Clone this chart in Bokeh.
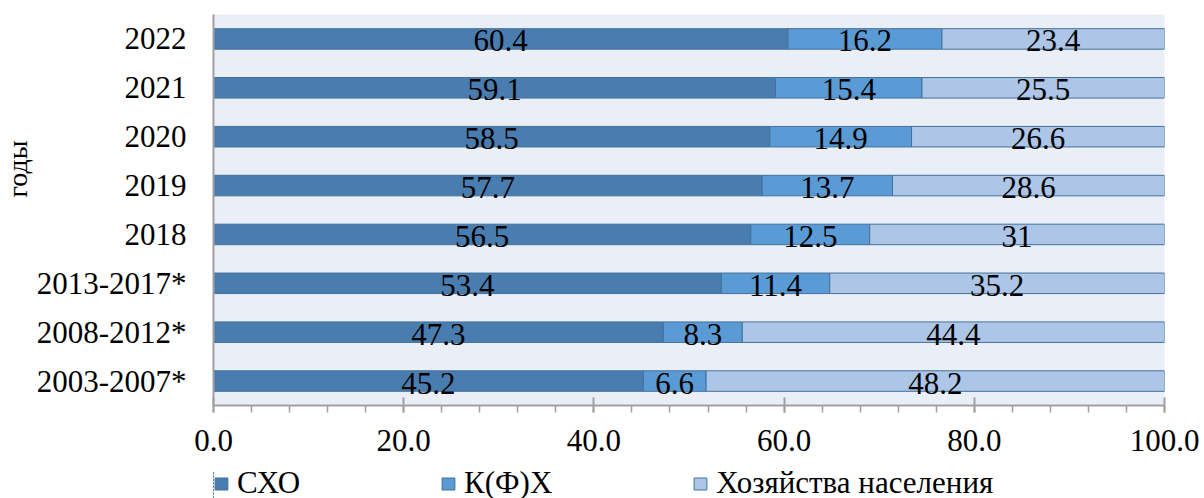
from bokeh.plotting import figure
from bokeh.layouts import column
from bokeh.models import (ColumnDataSource, FactorRange, Range1d, SingleIntervalTicker,
                          PrintfTickFormatter, Legend, LegendItem, Title)
from bokeh.core.properties import value
from bokeh.embed import file_html
from bokeh.resources import INLINE

years = ["2003-2007*", "2008-2012*", "2013-2017*", "2018", "2019", "2020", "2021", "2022"]
sxo = [45.2, 47.3, 53.4, 56.5, 57.7, 58.5, 59.1, 60.4]
kfx = [6.6, 8.3, 11.4, 12.5, 13.7, 14.9, 15.4, 16.2]
hh = [48.2, 44.4, 35.2, 31, 28.6, 26.6, 25.5, 23.4]
series_names = ["СХО", "К(Ф)Х", "Хозяйства населения"]
y_label = "годы"

FONT = "Liberation Serif"
FS = "31px"
colors = ["#4A7DAF", "#5B9BD5", "#ADC6E7"]
outline = "#41719C"

p = figure(width=1204, height=471, output_backend="svg", toolbar_location=None,
           y_range=FactorRange(factors=years), x_range=Range1d(0, 100),
           min_border_left=213, min_border_right=40, min_border_top=14, min_border_bottom=66)
p.background_fill_color = "#EAEEF7"
p.border_fill_color = "white"
p.outline_line_color = None
p.xgrid.visible = False
p.ygrid.visible = False

# legend strip under the chart (same data, bars kept out of its view)
p2 = figure(width=1204, height=27, output_backend="svg", toolbar_location=None,
            y_range=FactorRange(factors=years), x_range=Range1d(1000, 1100),
            x_axis_location=None, y_axis_location=None, min_border=0)
p2.outline_line_color = None
p2.background_fill_color = "white"
p2.xgrid.visible = False
p2.ygrid.visible = False

series = [sxo, kfx, hh]
legend_renderers = []
left = [0.0] * len(years)
for vals, col in zip(series, colors):
    right = [l + v for l, v in zip(left, vals)]
    src = ColumnDataSource(dict(y=years, left=left, right=right,
                                mid=[(l + r) / 2 for l, r in zip(left, right)],
                                lab=[f"{v:g}" for v in vals]))
    p.hbar(y="y", left="left", right="right", height=0.42, source=src,
           fill_color=col, line_color=outline, line_width=1)
    r2 = p2.hbar(y="y", left="left", right="right", height=0.42, source=src,
                 fill_color=col, line_color=outline, line_width=1)
    legend_renderers.append(r2)
    p.text(x="mid", y="y", text="lab", source=src, text_align="center",
           text_baseline="middle", y_offset=2, text_font=value(FONT),
           text_font_size=FS, text_color="black")
    left = right

# x axis
xa = p.xaxis[0]
xa.ticker = SingleIntervalTicker(interval=20, num_minor_ticks=5)
xa.formatter = PrintfTickFormatter(format="%.1f")
xa.axis_line_color = "#A0A0A0"
xa.axis_line_width = 2
xa.major_tick_line_color = "#A0A0A0"
xa.major_tick_line_width = 2
xa.minor_tick_line_color = "#A0A0A0"
xa.minor_tick_line_width = 1.5
xa.major_tick_in = 8
xa.major_tick_out = 7
xa.minor_tick_in = 0
xa.minor_tick_out = 7
xa.major_label_standoff = 17
xa.major_label_text_font = FONT
xa.major_label_text_font_size = FS
xa.major_label_text_color = "black"

# y axis
ya = p.yaxis[0]
ya.axis_line_color = "#A0A0A0"
ya.axis_line_width = 2
ya.major_tick_line_color = None
ya.major_tick_in = 0
ya.major_tick_out = 0
ya.major_label_standoff = 27
ya.major_label_text_font = FONT
ya.major_label_text_font_size = FS
ya.major_label_text_color = "black"

p.add_layout(Title(text=y_label, align="right", offset=126, standoff=0,
                   vertical_align="middle", text_font=FONT, text_font_size="28px",
                   text_font_style="normal", text_color="black"), "left")

legend = Legend(items=[LegendItem(label=n, renderers=[r]) for n, r in zip(series_names, legend_renderers)],
                orientation="horizontal", location=(0, -3), padding=0, margin=0,
                spacing=140, glyph_width=16, glyph_height=15, label_standoff=8,
                label_text_font_size=FS, label_text_color="black",
                border_line_color=None, background_fill_alpha=0)
try:
    legend.label_text_font = value(FONT)
except Exception:
    legend.label_text_font = FONT
p2.add_layout(legend, "center")

layout = column(p, p2, spacing=0)
open("out.html", "w").write(file_html(layout, INLINE))
